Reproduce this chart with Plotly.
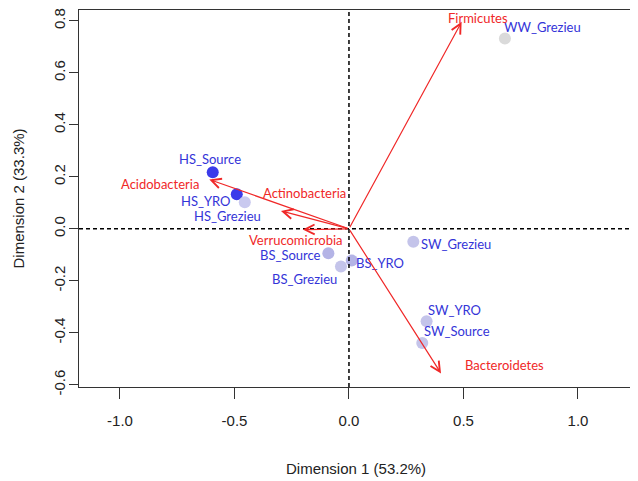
import plotly.graph_objects as go

# sample scores (dimension 1, dimension 2)
samples = ["HS_Source", "HS_YRO", "HS_Grezieu", "BS_Source", "BS_YRO",
           "BS_Grezieu", "SW_Grezieu", "SW_YRO", "SW_Source", "WW_Grezieu"]
dim1 = [-0.595, -0.490, -0.455, -0.090, 0.012, -0.035, 0.281, 0.339, 0.320, 0.681]
dim2 = [0.218, 0.133, 0.102, -0.094, -0.122, -0.145, -0.050, -0.355, -0.439, 0.732]
point_colors = ["#3b3bea", "#3b3bea", "#c9c9ef", "#b4b4e6", "#b4b4e6",
                "#c4c4ea", "#c4c4ea", "#c4c4ea", "#c4c4ea", "#dadada"]

# phyla loadings (arrow tips)
phyla = ["Firmicutes", "Bacteroidetes", "Acidobacteria", "Actinobacteria", "Verrucomicrobia"]
load1 = [0.492, 0.402, -0.610, -0.297, -0.202]
load2 = [0.796, -0.556, 0.190, 0.069, -0.003]

x_ticks = [-1.0, -0.5, 0.0, 0.5, 1.0]
y_ticks = [-0.6, -0.4, -0.2, 0.0, 0.2, 0.4, 0.6, 0.8]

# label offsets in pixels (dx right, dy up)
sample_offsets = [(-3, 13), (-31, -7), (-17, -14), (-38, -2), (28, -2),
                  (-36, -12), (43, -2), (28, 11), (35, 12), (38, 12)]
phyla_offsets = [(16, 4), (63, 8), (-49, -5), (24, 18), (-7, -10)]

blue = "#3434d8"
red = "#f02828"

fig = go.Figure()

fig.add_hline(y=0, line_dash="4px,3px", line_color="black", line_width=1.5)
fig.add_vline(x=0, line_dash="4px,3px", line_color="black", line_width=1.5)

fig.add_trace(go.Scatter(x=dim1, y=dim2, mode="markers",
                         marker=dict(size=12, color=point_colors),
                         showlegend=False))

for name, x, y, (dx, dy) in zip(samples, dim1, dim2, sample_offsets):
    fig.add_annotation(x=x, y=y, text=name, showarrow=False,
                       xshift=dx, yshift=dy,
                       font=dict(family="Lato", size=13, color=blue))

# arrows from origin
for name, x, y, (dx, dy) in zip(phyla, load1, load2, phyla_offsets):
    fig.add_annotation(x=x, y=y, ax=0, ay=0, axref="x", ayref="y",
                       text="", showarrow=True, arrowhead=5, arrowsize=1.6,
                       arrowwidth=1.2, arrowcolor=red, standoff=0)
    fig.add_annotation(x=x, y=y, text=name, showarrow=False,
                       xshift=dx, yshift=dy,
                       font=dict(family="Lato", size=13, color=red))

# axis titles
fig.add_annotation(x=0.501, y=-0.2164, xref="paper", yref="paper",
                   xanchor="center", yanchor="middle",
                   text="Dimension 1 (53.2%)", showarrow=False,
                   font=dict(family="Liberation Sans", size=15, color="#222"))
fig.add_annotation(x=-0.1103, y=0.5, xref="paper", yref="paper",
                   xanchor="center", yanchor="middle",
                   text="Dimension 2 (33.3%)", showarrow=False, textangle=-90,
                   font=dict(family="Liberation Sans", size=15, color="#222"))

fig.update_xaxes(range=[-1.179, 1.236], tickvals=x_ticks,
                 ticktext=["%.1f" % v for v in x_ticks],
                 ticks="outside", ticklen=11, tickwidth=1.3, tickcolor="#333",
                 ticklabelstandoff=9,
                 showline=True, mirror=True, linecolor="#333", linewidth=1.3,
                 showgrid=False, zeroline=False,
                 tickfont=dict(family="Liberation Sans", size=15, color="#222"))
fig.update_yaxes(range=[-0.6083, 0.8416], tickvals=y_ticks,
                 ticktext=["%.1f" % v for v in y_ticks], tickangle=-90,
                 ticks="outside", ticklen=9, tickwidth=1.3, tickcolor="#333",
                 ticklabelstandoff=-2, ticklabeloverflow="allow",
                 showline=True, mirror=True, linecolor="#333", linewidth=1.3,
                 showgrid=False, zeroline=False,
                 tickfont=dict(family="Liberation Sans", size=15, color="#222"))

fig.update_layout(width=630, height=473,
                  margin=dict(l=71, r=6, t=0, b=94),
                  plot_bgcolor="white", paper_bgcolor="white")

fig.write_html("out.html")
